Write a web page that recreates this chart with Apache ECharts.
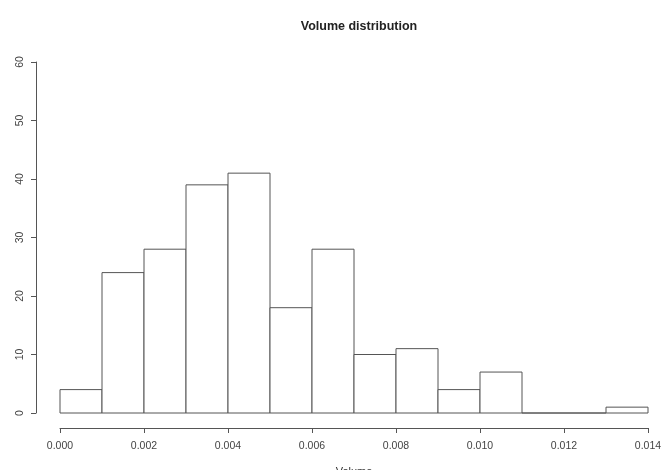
<!DOCTYPE html>
<html lang="en">
<head>
  <meta charset="UTF-8">
  <title>Volume distribution</title>
  <script src="https://cdn.jsdelivr.net/npm/echarts@6/dist/echarts.min.js"></script>
  <style>
    html, body { margin: 0; padding: 0; background: #fff; }
    #chart { width: 664px; height: 470px; }
  </style>
</head>
<body>
  <div id="chart"></div>
  <script>
    // histogram bins (left edges), bin width 0.001
    var binStarts = [0.000, 0.001, 0.002, 0.003, 0.004, 0.005, 0.006, 0.007, 0.008, 0.009, 0.010, 0.011, 0.012, 0.013]
    var counts = [4, 24, 28, 39, 41, 18, 28, 10, 11, 4, 7, 0, 0, 1]
    var binWidth = 0.001
    var xTicks = [0, 0.002, 0.004, 0.006, 0.008, 0.010, 0.012, 0.014]
    var yTicks = [0, 10, 20, 30, 40, 50, 60]

    var lineColor = '#555'
    var font = 'Liberation Sans'
    var chart = echarts.init(document.getElementById('chart'))

    var data = binStarts.map(function (s, i) {
      return [s, s + binWidth, counts[i]]
    })

    chart.setOption({
      animation: false,
      title: {
        text: 'Volume distribution',
        left: 354,
        textAlign: 'center',
        top: 15,
        textStyle: { fontSize: 12.5, fontWeight: 'bold', color: '#222', fontFamily: font }
      },
      grid: { left: 60, right: 16, top: 62, bottom: 57, containLabel: false, outerBoundsMode: 'none' },
      xAxis: {
        type: 'value',
        min: xTicks[0],
        max: xTicks[xTicks.length - 1],
        interval: 0.002,
        offset: 15,
        name: 'Volume',
        nameLocation: 'middle',
        nameGap: 38,
        nameTextStyle: { fontSize: 11, color: '#333', fontFamily: font },
        axisLine: { show: true, onZero: false, lineStyle: { color: lineColor, width: 1 } },
        axisTick: { show: true, length: 5, lineStyle: { color: lineColor } },
        axisLabel: {
          fontSize: 10.5, color: '#444', margin: 13, fontFamily: font,
          formatter: function (v) { return v.toFixed(3) }
        },
        splitLine: { show: false }
      },
      yAxis: {
        type: 'value',
        min: yTicks[0],
        max: yTicks[yTicks.length - 1],
        interval: 10,
        offset: 24,
        axisLine: { show: true, onZero: false, lineStyle: { color: lineColor, width: 1 } },
        axisTick: { show: true, length: 5, lineStyle: { color: lineColor } },
        axisLabel: { fontSize: 10.5, color: '#444', rotate: 90, margin: 10, fontFamily: font },
        splitLine: { show: false }
      },
      series: [{
        type: 'custom',
        data: data,
        encode: { x: [0, 1], y: 2 },
        renderItem: function (params, api) {
          var p0 = api.coord([api.value(0), api.value(2)])
          var p1 = api.coord([api.value(1), 0])
          return {
            type: 'rect',
            shape: { x: p0[0], y: p0[1], width: p1[0] - p0[0], height: p1[1] - p0[1] },
            style: { fill: '#fff', stroke: lineColor, lineWidth: 1 }
          }
        }
      }]
    })
  </script>
</body>
</html>
